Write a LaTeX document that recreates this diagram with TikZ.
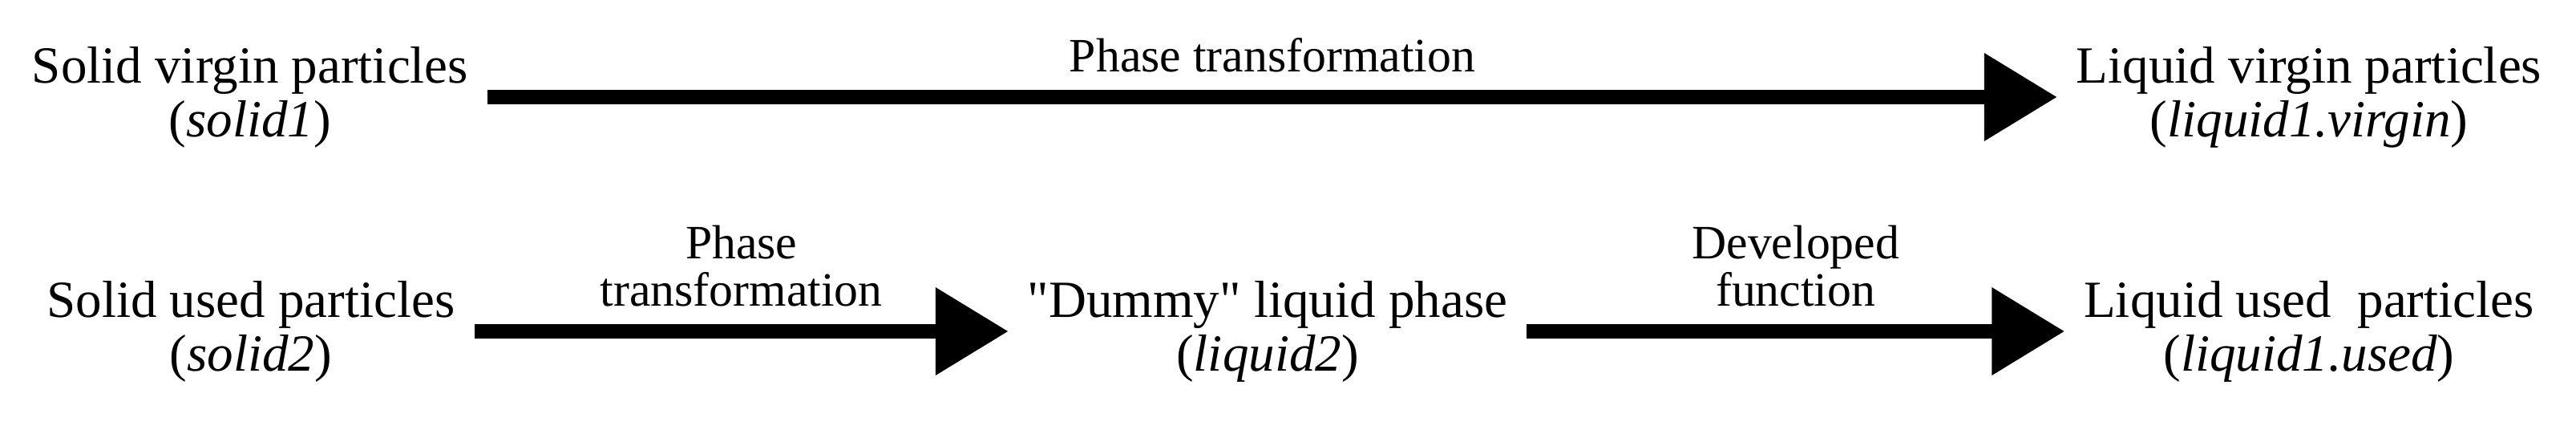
\documentclass[tikz,border=0pt]{standalone}
\usepackage{fontspec}
\setmainfont{Liberation Serif}
\usetikzlibrary{arrows.meta}

\begin{document}
\begin{tikzpicture}[
  phase/.style={align=center, inner sep=0pt, outer xsep=0.24cm, font=\fontsize{18.5}{19}\selectfont},
  trans/.style={line width=0.18cm, -{Triangle[length=0.91cm,width=1.05cm]}},
  tlabel/.style={align=center, inner sep=0pt, above=0.22cm, font=\fontsize{17}{16.8}\selectfont}
]
\useasboundingbox (0,0) rectangle (32.13,5.26);

% virgin particles
\node[phase] (solid1) at (3.12,4.05) {Solid virgin particles\\(\textit{solid1})};
\node[phase] (liquid1v) at (28.80,4.05) {Liquid virgin particles\\(\textit{liquid1.virgin})};

% used particles
\node[phase] (solid2) at (3.13,1.13) {Solid used particles\\(\textit{solid2})};
\node[phase] (liquid2) at (15.81,1.13) {\textquotedbl Dummy\textquotedbl{} liquid phase\\(\textit{liquid2})};
\node[phase] (liquid1u) at (28.80,1.13) {Liquid used\ \ particles\\(\textit{liquid1.used})};

% transformation arrows
\draw[trans] (solid1.east) -- (liquid1v.west) node[tlabel, midway] {Phase transformation};
\draw[trans] (solid2.east) -- (liquid2.west) node[tlabel, midway] {Phase\\transformation};
\draw[trans] (liquid2.east) -- (liquid1u.west) node[tlabel, midway] {Developed\\function};

\end{tikzpicture}
\end{document}
